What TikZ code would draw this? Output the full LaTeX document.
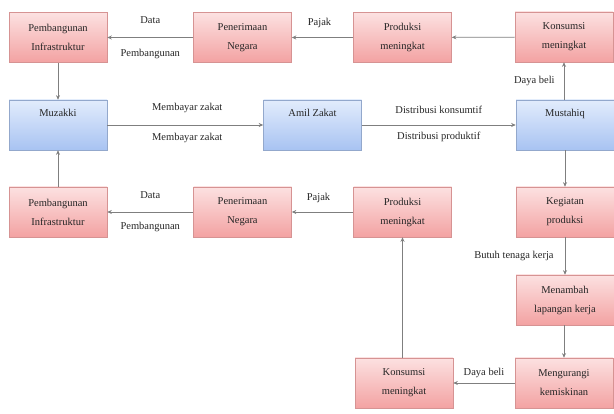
\documentclass[tikz,border=0pt]{standalone}
\usepackage{fontspec}
\setmainfont{Liberation Serif}
\usetikzlibrary{arrows.meta}
\definecolor{pinkTop}{HTML}{FCE1E1}
\definecolor{pinkBot}{HTML}{F3A2A2}
\definecolor{pinkEdge}{HTML}{D69393}
\definecolor{blueTop}{HTML}{E2ECFC}
\definecolor{blueBot}{HTML}{A8C3F2}
\definecolor{blueEdge}{HTML}{93A8CC}
\definecolor{lineGray}{HTML}{7F7F7F}
\definecolor{txt}{HTML}{262626}
\begin{document}
\begin{tikzpicture}[x=1pt,y=-1pt,
  font=\fontsize{10.5}{19}\selectfont, text=txt,
  box/.style={rectangle, minimum width=98pt, minimum height=50pt, inner sep=1pt, align=center, line width=0.6pt},
  pbox/.style={box, draw=pinkEdge, top color=pinkTop, bottom color=pinkBot},
  bbox/.style={box, draw=blueEdge, top color=blueTop, bottom color=blueBot},
  conn/.style={draw=lineGray, line width=0.8pt, -{Stealth[length=4.5pt,width=4pt]}},
  lbl/.style={inner sep=1pt}]
\useasboundingbox (0,0) rectangle (614,414);
% row 1
\node[pbox] (p1) at (58,37.5) {Pembangunan\\Infrastruktur};
\node[pbox] (n1) at (242.5,37.5) {Penerimaan\\Negara};
\node[pbox] (pr1) at (402.5,37.5) {Produksi\\meningkat};
\node[pbox] (k1) at (564,37) {Konsumsi\\meningkat};
% row 2
\node[bbox] (mz) at (58,125) {Muzakki\\\strut};
\node[bbox] (am) at (312.5,125) {Amil Zakat\\\strut};
\node[bbox] (ms) at (565,125) {Mustahiq\\\strut};
% row 3
\node[pbox] (p3) at (58,212) {Pembangunan\\Infrastruktur};
\node[pbox] (n3) at (242.5,212) {Penerimaan\\Negara};
\node[pbox] (pr3) at (402.5,212) {Produksi\\meningkat};
\node[pbox] (kg) at (565,212) {Kegiatan\\produksi};
% lower right
\node[pbox] (mn) at (565,300) {Menambah\\lapangan kerja};
\node[pbox] (mg) at (564,383) {Mengurangi\\kemiskinan};
\node[pbox] (k3) at (404,383) {Konsumsi\\meningkat};
% connectors row 1
\draw[conn] (k1) -- (pr1);
\draw[conn] (pr1) -- (n1) node[lbl,midway,yshift=15pt,xshift=-3pt] (lpj1) {Pajak};
\draw[conn] (n1) -- (p1)
  node[lbl,midway,yshift=17pt] (ld1) {Data}
  node[lbl,midway,yshift=-16pt] (lb1) {Pembangunan};
\draw[conn] (p1) -- (mz);
% row 2
\draw[conn] (mz) -- (am)
  node[lbl,midway,yshift=17pt,xshift=2pt] (lm1) {Membayar zakat}
  node[lbl,midway,yshift=-13pt,xshift=2pt] (lm2) {Membayar zakat};
\draw[conn] (am) -- (ms)
  node[lbl,midway,yshift=15pt] (ldk) {Distribusi konsumtif}
  node[lbl,midway,yshift=-12pt] (ldp) {Distribusi produktif};
\draw[conn] (ms.north -| k1.south) -- (k1.south)
  node[lbl,midway,left=8pt] (ldb1) {Daya beli};
% row 3
\draw[conn] (p3) -- (mz);
\draw[conn] (pr3) -- (n3) node[lbl,midway,yshift=14pt,xshift=-4pt] (lpj3) {Pajak};
\draw[conn] (n3) -- (p3)
  node[lbl,midway,yshift=17pt] (ld3) {Data}
  node[lbl,midway,yshift=-15pt] (lb3) {Pembangunan};
\draw[conn] (ms) -- (kg);
\draw[conn] (kg) -- (mn) node[lbl,midway,left=10pt] (lbt) {Butuh tenaga kerja};
\draw[conn] (mn.south -| mg.north) -- (mg.north);
\draw[conn] (mg) -- (k3) node[lbl,midway,yshift=10pt] (ldb2) {Daya beli};
\draw[conn] (k3.north -| pr3.south) -- (pr3.south);
\end{tikzpicture}
\end{document}
